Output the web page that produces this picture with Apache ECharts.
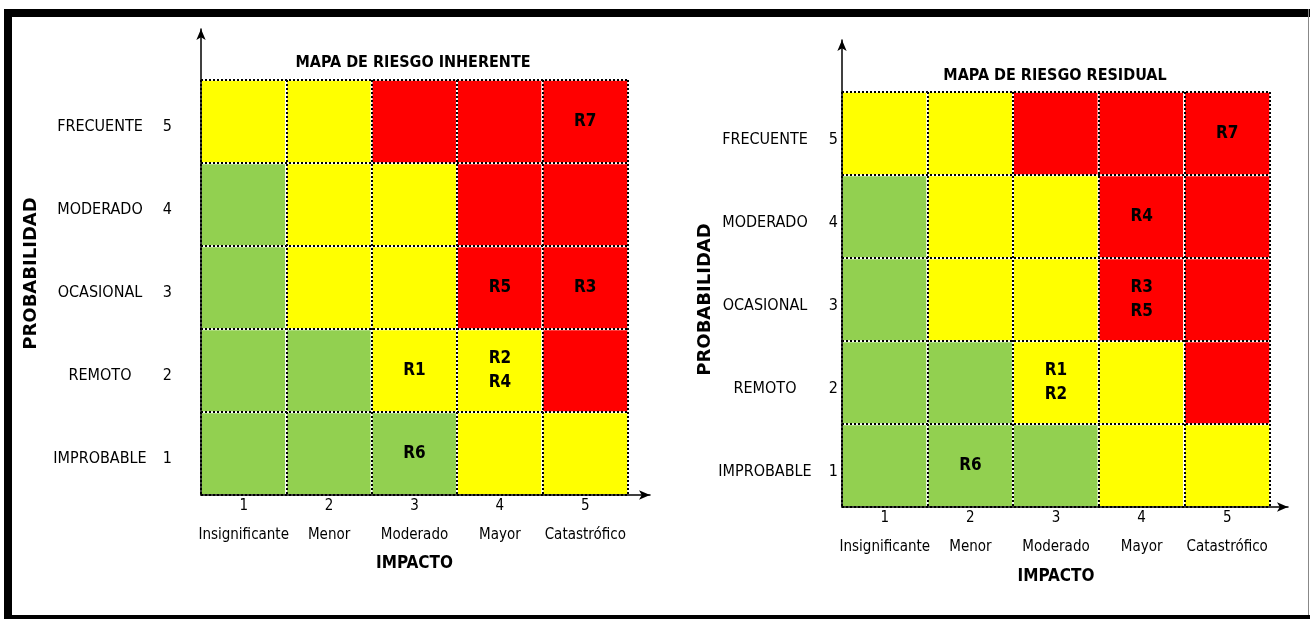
<!DOCTYPE html>
<html>
<head>
<meta charset="utf-8">
<script src="https://cdn.jsdelivr.net/npm/echarts@6/dist/echarts.min.js"></script>
<style>
html,body{margin:0;padding:0;background:#fff;}
#chart{width:1310px;height:619px;}
</style>
</head>
<body>
<div id="chart"></div>
<script>
// ---------- data ----------
const impactNums = ['1', '2', '3', '4', '5'];
const impactNames = ['Insignificante', 'Menor', 'Moderado', 'Mayor', 'Catastrófico'];
const probNums = ['1', '2', '3', '4', '5'];
const probNames = ['IMPROBABLE', 'REMOTO', 'OCASIONAL', 'MODERADO', 'FRECUENTE'];
// risk level per row (probabilidad 1..5), columns impacto 1..5 : 1 = bajo, 2 = medio, 3 = alto
const inherentLevels = [
  [1, 1, 1, 2, 2],
  [1, 1, 2, 2, 3],
  [1, 2, 2, 3, 3],
  [1, 2, 2, 3, 3],
  [2, 2, 3, 3, 3]
];
const residualLevels = [
  [1, 1, 1, 2, 2],
  [1, 1, 2, 2, 3],
  [1, 2, 2, 3, 3],
  [1, 2, 2, 3, 3],
  [2, 2, 3, 3, 3]
];
// [impacto, probabilidad, risks]
const inherentRisks = [[5, 5, 'R7'], [4, 3, 'R5'], [5, 3, 'R3'], [3, 2, 'R1'], [4, 2, 'R2\nR4'], [3, 1, 'R6']];
const residualRisks = [[5, 5, 'R7'], [4, 4, 'R4'], [4, 3, 'R3\nR5'], [3, 2, 'R1\nR2'], [2, 1, 'R6']];
const titles = ['MAPA DE RIESGO INHERENTE', 'MAPA DE RIESGO RESIDUAL'];

// ---------- build ----------
const NARROW = "'Liberation Sans Narrow', 'DejaVu Sans Condensed', sans-serif";
function buildData(levels, risks) {
  const out = [];
  for (let i = 0; i < levels.length; i++) {
    for (let j = 0; j < levels[i].length; j++) {
      const r = risks.find(d => d[0] === j + 1 && d[1] === i + 1);
      out.push([j, i, levels[i][j], r ? r[2] : '']);
    }
  }
  return out;
}

const grids = [
  {left: 201, top: 80, width: 427, height: 415},   // inherent cells
  {left: 842, top: 92, width: 428, height: 415},   // residual cells
  {left: 201, top: 29, width: 449, height: 466},   // inherent arrows
  {left: 842, top: 40, width: 446, height: 467}    // residual arrows
];

function catX(gi, nameGap) {
  return {
    type: 'category', gridIndex: gi, data: impactNums, z: 5,
    axisLine: {show: false}, axisTick: {show: false},
    splitLine: {show: true, lineStyle: {color: '#000', width: 2, type: [2, 2]}},
    axisLabel: {
      margin: 0, color: '#000', interval: 0,
      formatter: (v, idx) => '{n|' + v + '}\n{t|' + impactNames[idx] + '}',
      rich: {
        n: {fontFamily: NARROW, fontSize: 15, lineHeight: 23, color: '#000'},
        t: {fontFamily: NARROW, fontSize: 15, lineHeight: 34, color: '#000'}
      }
    },
    name: 'IMPACTO', nameLocation: 'middle', nameGap: nameGap,
    nameTextStyle: {fontFamily: NARROW, fontWeight: 'bold', fontSize: 17, color: '#000'}
  };
}
function catY(gi, margin, tWidth, nWidth, nameGap, namePad, labPad) {
  return {
    type: 'category', gridIndex: gi, data: probNums, z: 5,
    axisLine: {show: false}, axisTick: {show: false},
    splitLine: {show: true, lineStyle: {color: '#000', width: 2, type: [2, 2]}},
    axisLabel: {
      margin: margin, color: '#000', interval: 0, padding: labPad,
      formatter: (v, idx) => '{t|' + probNames[idx] + '}{n|' + v + '}',
      rich: {
        t: {fontFamily: NARROW, fontSize: 16, width: tWidth, align: 'center', color: '#000'},
        n: {fontFamily: NARROW, fontSize: 16, width: nWidth, align: 'right', color: '#000'}
      }
    },
    name: 'PROBABILIDAD', nameLocation: 'middle', nameRotate: 90, nameGap: nameGap,
    nameTextStyle: {fontFamily: "'DejaVu Sans', sans-serif", fontWeight: 'bold', fontSize: 18, color: '#000', padding: namePad}
  };
}
function arrowAxis(gi, isX) {
  return {
    type: 'value', gridIndex: gi, min: 0, max: 1, z: 6,
    position: isX ? 'bottom' : 'left',
    axisLine: {show: true, onZero: false, symbol: ['none', 'arrow'], symbolSize: [7, 11],
      lineStyle: {color: '#000', width: 1.5}},
    axisTick: {show: false}, axisLabel: {show: false}, splitLine: {show: false}
  };
}

const cellLabel = {
  show: true, color: '#000', fontFamily: NARROW, fontWeight: 'bold', fontSize: 17, lineHeight: 24,
  formatter: p => p.data[3]
};

const option = {
  animation: false,
  backgroundColor: '#fff',
  title: [
    {text: titles[0], left: 413, top: 55, textAlign: 'center', padding: 0,
      textStyle: {fontFamily: NARROW, fontWeight: 'bold', fontSize: 16, color: '#000'}},
    {text: titles[1], left: 1055, top: 68, textAlign: 'center', padding: 0,
      textStyle: {fontFamily: NARROW, fontWeight: 'bold', fontSize: 16, color: '#000'}}
  ],
  grid: grids,
  xAxis: [catX(0, 60), catX(1, 61), arrowAxis(2, true), arrowAxis(3, true)],
  yAxis: [
    catY(0, 29, 100, 22, 161, [0, 0, 0, 28], [10, 0, 0, 0]),
    catY(1, 4, 100, 23, 127, 0, [12, 0, 0, 0]),
    arrowAxis(2, false), arrowAxis(3, false)
  ],
  visualMap: {
    type: 'piecewise', show: false, dimension: 2, seriesIndex: [0, 1],
    pieces: [{value: 1, color: '#92D050'}, {value: 2, color: '#FFFF00'}, {value: 3, color: '#FF0000'}]
  },
  series: [
    {type: 'heatmap', xAxisIndex: 0, yAxisIndex: 0, data: buildData(inherentLevels, inherentRisks),
      itemStyle: {borderColor: '#fff', borderWidth: 2}, label: cellLabel, emphasis: {disabled: true}},
    {type: 'heatmap', xAxisIndex: 1, yAxisIndex: 1, data: buildData(residualLevels, residualRisks),
      itemStyle: {borderColor: '#fff', borderWidth: 2}, label: cellLabel, emphasis: {disabled: true}}
  ],
  graphic: [
    {type: 'rect', shape: {x: 4, y: 9, width: 1306, height: 8}, style: {fill: '#000'}, silent: true},
    {type: 'rect', shape: {x: 4, y: 9, width: 8, height: 610}, style: {fill: '#000'}, silent: true},
    {type: 'rect', shape: {x: 4, y: 615, width: 1306, height: 4}, style: {fill: '#000'}, silent: true},
    {type: 'rect', shape: {x: 1308, y: 9, width: 1, height: 606}, style: {fill: '#888'}, silent: true}
  ]
};

const chart = echarts.init(document.getElementById('chart'), null, {renderer: 'canvas'});
chart.setOption(option);
</script>
</body>
</html>
